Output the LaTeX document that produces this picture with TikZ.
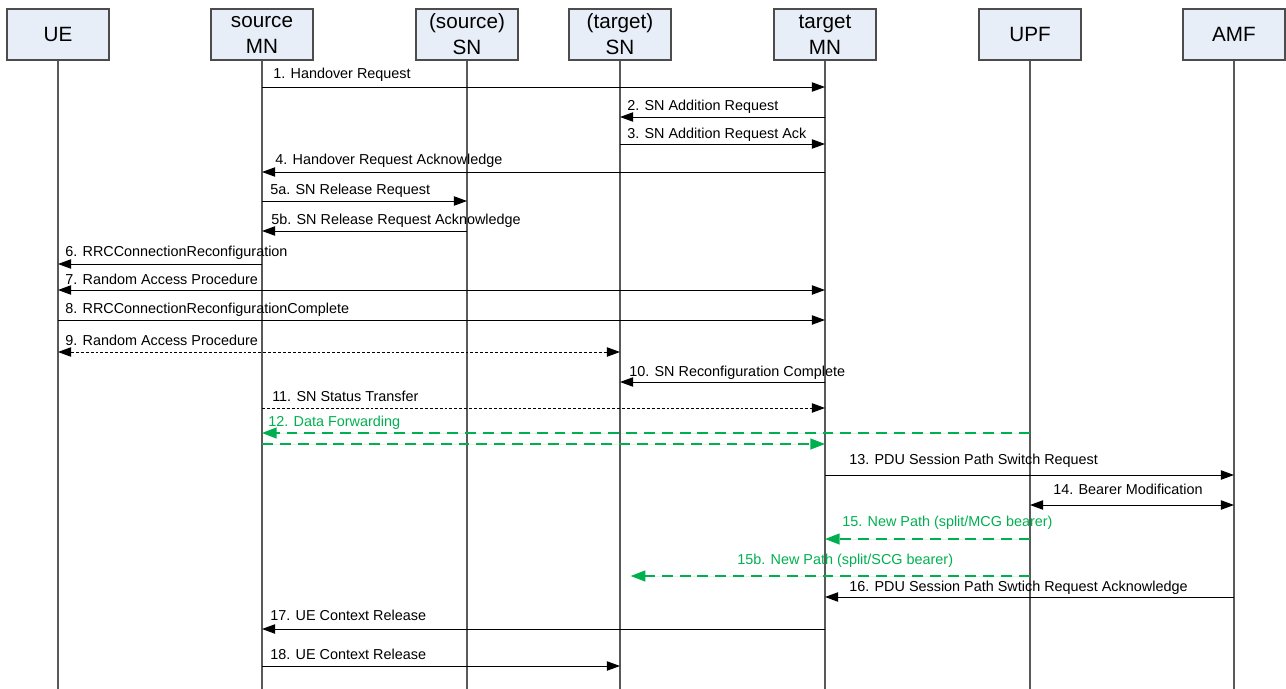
\documentclass[tikz,border=0pt]{standalone}
\usepackage{fontspec}
\setmainfont{Liberation Sans}
\usetikzlibrary{arrows.meta}
\definecolor{boxfill}{HTML}{E8EEF8}
\definecolor{pathgreen}{HTML}{00B050}

\tikzset{
    entity/.style={draw=black!70, fill=boxfill, line width=0.8pt, minimum width=76.5pt, minimum height=38.25pt,
        inner sep=0pt, align=center, font=\fontsize{15.5}{19.5}\selectfont},
    lifeline/.style={draw=black!65, line width=0.8pt},
    msg/.style={draw=black, line width=0.7pt, -{Triangle[length=9.8pt,width=7pt]}},
    both/.style={msg, {Triangle[length=9.8pt,width=7pt]}-{Triangle[length=9.8pt,width=7pt]}},
    dotmsg/.style={dash pattern=on 2.2pt off 1.5pt},
    greenmsg/.style={draw=pathgreen, fill=pathgreen, line width=1.1pt, dash pattern=on 8.2pt off 5.2pt,
        -{Triangle[length=11pt,width=8.2pt]}},
    lbl/.style={anchor=base west, inner sep=0pt, font=\fontsize{10.8}{13}\selectfont},
}

\begin{document}
\begin{tikzpicture}[x=0.75pt,y=-0.75pt]
    \useasboundingbox (0,0) rectangle (1286,689);
    % entities and lifelines
    \foreach \name/\x/\txt in {ue/58/UE, smn/262/source\\MN, ssn/467/(source)\\SN, tsn/620/(target)\\SN,
            tmn/825/target\\MN, upf/1030/UPF, amf/1234/AMF}{
        \node[entity] (\name) at (\x,34.5) {\txt};
        \draw[lifeline] (\name.south) -- (\name.south |- 0,689);
    }

    % handover preparation
    \draw[msg] (smn |- 0,87) -- (tmn |- 0,87);
    \node[lbl] at (273,78) {1. Handover Request};
    \draw[msg] (tmn |- 0,117) -- (tsn |- 0,117);
    \node[lbl] at (627,110) {2. SN Addition Request};
    \draw[msg] (tsn |- 0,144) -- (tmn |- 0,144);
    \node[lbl] at (627,138) {3. SN Addition Request Ack};
    \draw[msg] (tmn |- 0,172) -- (smn |- 0,172);
    \node[lbl] at (275,164) {4. Handover Request Acknowledge};
    \draw[msg] (smn |- 0,201) -- (ssn |- 0,201);
    \node[lbl] at (270,194) {5a. SN Release Request};
    \draw[msg] (ssn |- 0,231) -- (smn |- 0,231);
    \node[lbl] at (271,224) {5b. SN Release Request Acknowledge};

    % access to target
    \draw[msg] (smn |- 0,264) -- (ue |- 0,264);
    \node[lbl] at (65,256) {6. RRCConnectionReconfiguration};
    \draw[both] (ue |- 0,290) -- (tmn |- 0,290);
    \node[lbl] at (65,284) {7. Random Access Procedure};
    \draw[msg] (ue |- 0,320) -- (tmn |- 0,320);
    \node[lbl] at (65,313) {8. RRCConnectionReconfigurationComplete};
    \draw[both, dotmsg] (ue |- 0,352) -- (tsn |- 0,352);
    \node[lbl] at (65,345) {9. Random Access Procedure};
    \draw[msg] (tmn |- 0,382) -- (tsn |- 0,382);
    \node[lbl] at (629,376) {10. SN Reconfiguration Complete};
    \draw[msg, dotmsg] (smn |- 0,408) -- (tmn |- 0,408);
    \node[lbl] at (272,401) {11. SN Status Transfer};

    % data forwarding
    \draw[greenmsg] (upf |- 0,433) -- (smn |- 0,433);
    \draw[greenmsg] (smn |- 0,444) -- (tmn |- 0,444);
    \node[lbl, text=pathgreen] at (268,426) {12. Data Forwarding};

    % path switch
    \draw[msg] (tmn |- 0,475) -- (amf |- 0,475);
    \node[lbl] at (849,464) {13. PDU Session Path Switch Request};
    \draw[both] (upf |- 0,505) -- (amf |- 0,505);
    \node[lbl] at (1053,494) {14. Bearer Modification};
    \draw[greenmsg] (upf |- 0,539) -- (tmn |- 0,539);
    \node[lbl, text=pathgreen] at (842,526) {15. New Path (split/MCG bearer)};
    \draw[greenmsg] (upf |- 0,576) -- ([xshift=8]tsn |- 0,576);
    \node[lbl, text=pathgreen] at (737,564) {15b. New Path (split/SCG bearer)};
    \draw[msg] (amf |- 0,597) -- (tmn |- 0,597);
    \node[lbl] at (849,591) {16. PDU Session Path Swtich Request Acknowledge};

    % release
    \draw[msg] (tmn |- 0,629) -- (smn |- 0,629);
    \node[lbl] at (270,620) {17. UE Context Release};
    \draw[msg] (smn |- 0,666) -- (tsn |- 0,666);
    \node[lbl] at (270,659) {18. UE Context Release};
\end{tikzpicture}
\end{document}
